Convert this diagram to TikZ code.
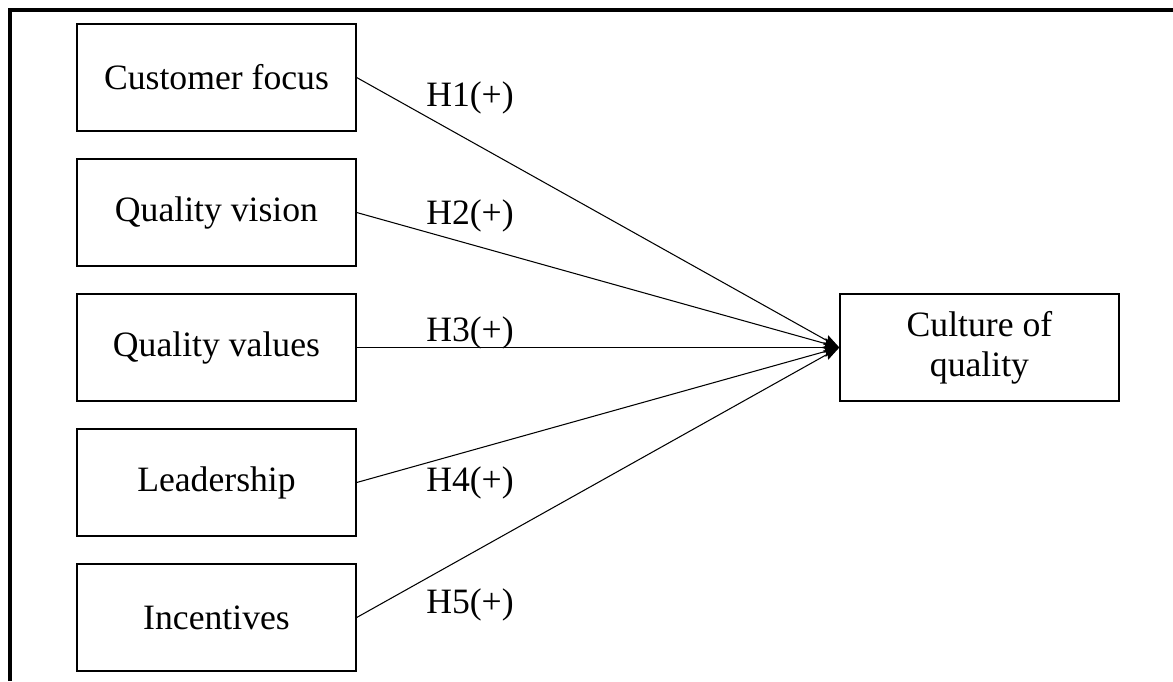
\documentclass[tikz,border=0pt]{standalone}
\usepackage{fontspec}
\setmainfont{Liberation Serif}
\usetikzlibrary{arrows.meta, positioning}

\tikzset{
  factor/.style={draw, line width=0.8pt, minimum width=5.58cm,
                 minimum height=2.14cm, align=center, inner sep=2pt},
  hyparrow/.style={->, line width=0.6pt},
}

\begin{document}
\begin{tikzpicture}[x=0.02cm, y=-0.02cm,
    >={Stealth[length=9pt, width=6pt, inset=1.5pt]},
    font=\fontsize{20.3}{23}\selectfont]
  \useasboundingbox (0,0) rectangle (1173,681);
  % frame (top and left edge only)
  \draw[line width=2.3pt] (10,681) -- (10,10) -- (1173,10);
  % constructs
  \foreach \name/\txt/\y in {cf/Customer focus/77.5, qv/Quality vision/212.5,
                             qval/Quality values/347.5, lead/Leadership/482.5,
                             inc/Incentives/617.5}
    \node[factor] (\name) at (216.5,\y) {\txt};
  \node[factor] (coq) at (979.5,347.5) {Culture of\\quality};
  % hypotheses
  \foreach \name in {cf,qv,qval,lead,inc}
    \draw[hyparrow] (\name.east) -- (coq.west);
  \node (h1) at (470,98) {H1(+)};
  \node (h2) at (470,216) {H2(+)};
  \node (h3) at (470,333) {H3(+)};
  \node (h4) at (470,483) {H4(+)};
  \node (h5) at (470,605) {H5(+)};
\end{tikzpicture}
\end{document}
